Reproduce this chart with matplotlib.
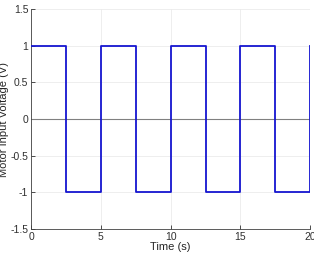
import matplotlib
matplotlib.use("Agg")
import matplotlib.pyplot as plt

plt.rcParams["font.family"] = ["Liberation Sans", "DejaVu Sans"]

# edges of the square wave (s) and the level held after each edge (V)
t_edges = [0, 2.5, 5, 7.5, 10, 12.5, 15, 17.5, 20]
v_levels = [1, -1, 1, -1, 1, -1, 1, -1, 1]
x_ticks = [0, 5, 10, 15, 20]
y_ticks = [-1.5, -1, -0.5, 0, 0.5, 1, 1.5]
y_ticklabels = ["-1.5", "-1", "-0.5", "0", "0.5", "1", "1.5"]

fig = plt.figure(figsize=(3.14, 2.54), dpi=100)
ax = fig.add_axes([0.099, 0.098, 0.889, 0.866])

# zero reference line
ax.axhline(0, color="#808080", lw=0.8, zorder=1)
ax.step(t_edges, v_levels, where="post", color="#1515d0", lw=1.3, zorder=3)

ax.set_xlim(0, 20)
ax.set_ylim(-1.5, 1.5)
ax.set_xticks(x_ticks)
ax.set_yticks(y_ticks)
ax.set_yticklabels(y_ticklabels)
ax.grid(True, color="#ebebeb", lw=0.6)
ax.set_axisbelow(True)

for s in ["top", "right"]:
    ax.spines[s].set_visible(False)
for s in ["left", "bottom"]:
    ax.spines[s].set_color("#404040")
    ax.spines[s].set_linewidth(0.6)

ax.tick_params(direction="in", length=3, width=0.6, labelsize=7.5,
               colors="#303030", pad=2)
ax.set_xlabel("Time (s)", fontsize=8, color="#262626", labelpad=0)
ax.set_ylabel("Motor Input Voltage (V)", fontsize=8, color="#262626", labelpad=1)

fig.savefig("out.png", dpi=100)
